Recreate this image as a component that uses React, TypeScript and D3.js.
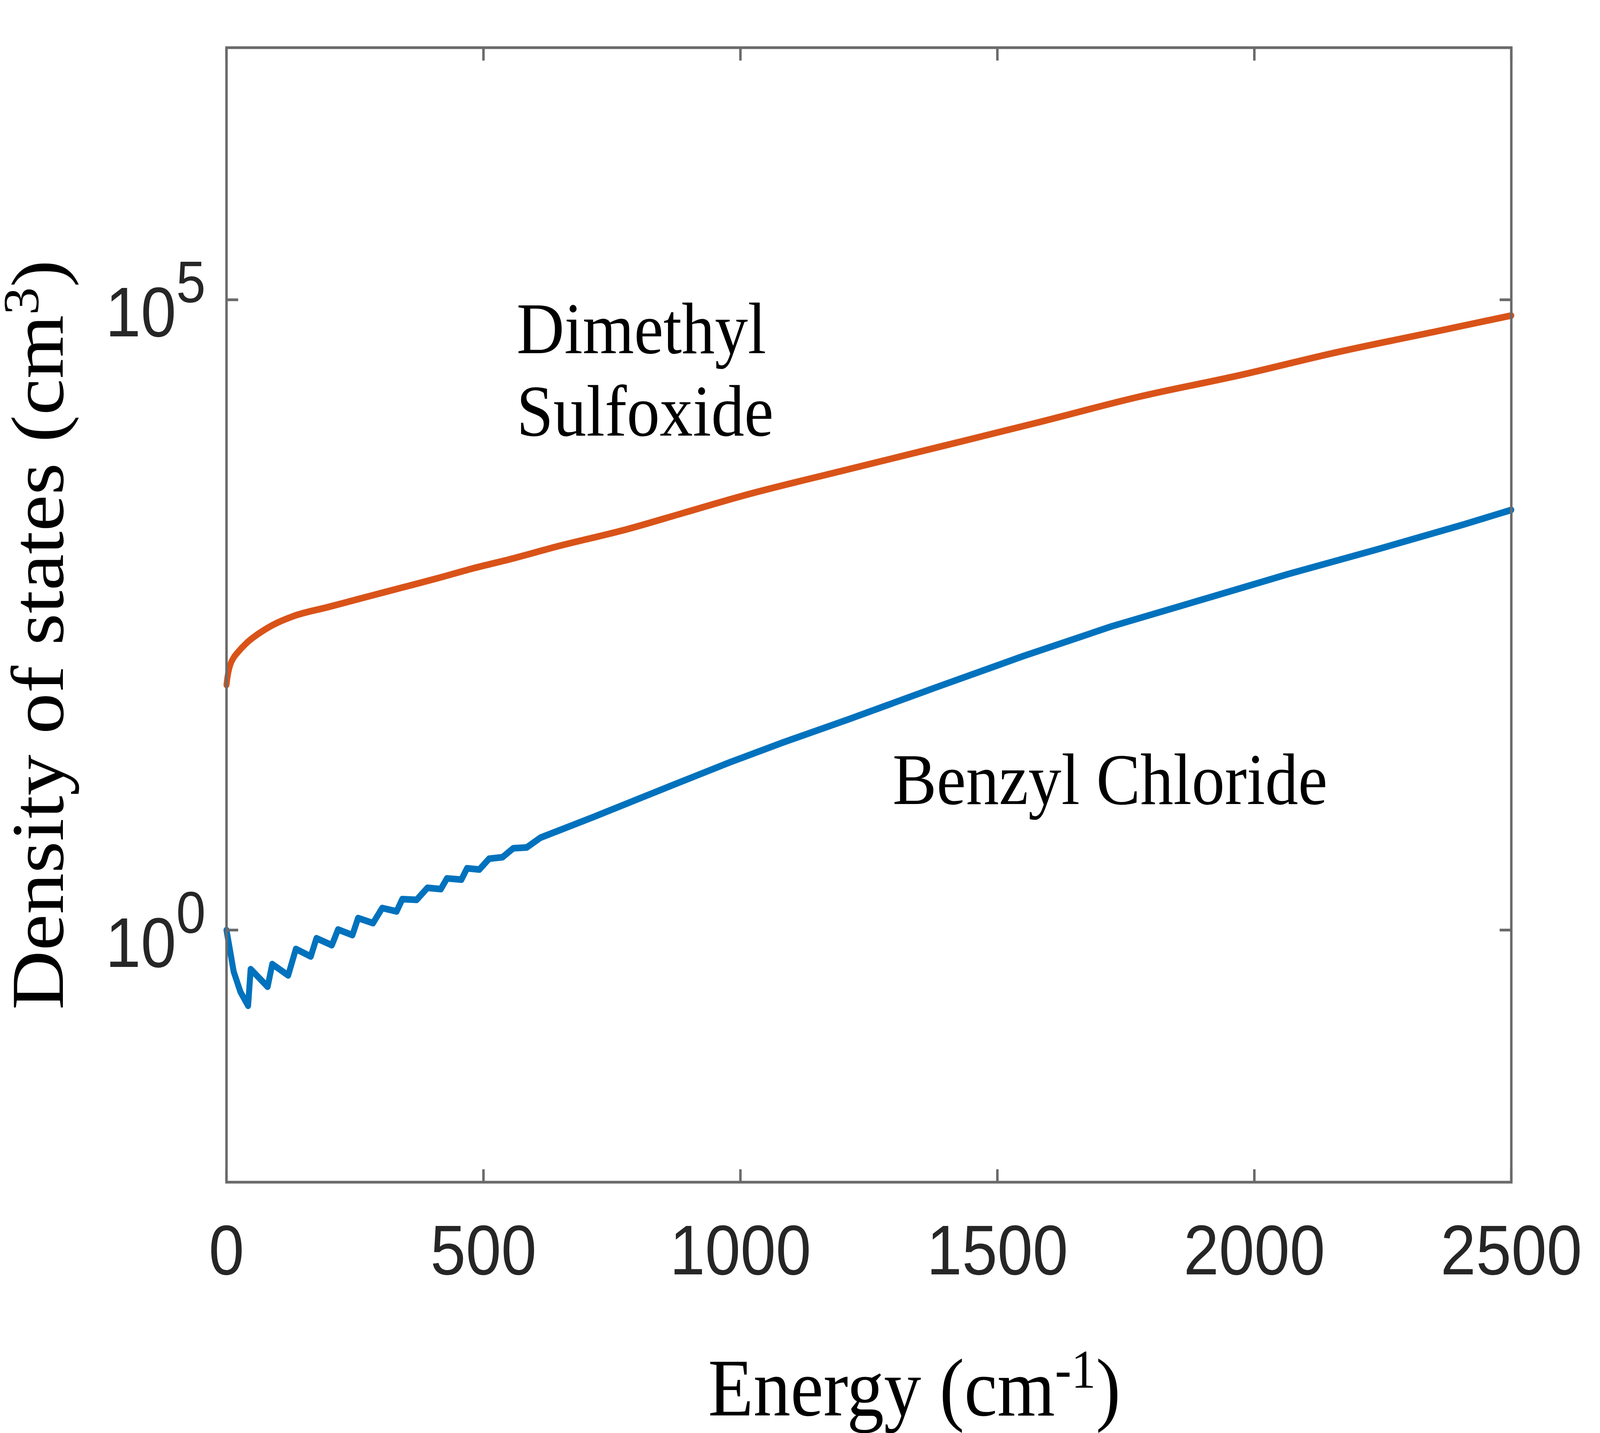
import * as d3 from "d3";

// Dimethyl sulfoxide (orange) — energy (cm^-1) and density of states (cm^3)
const energyDMSO = [0, 2, 7, 14, 21, 40, 60, 90, 130, 200, 270, 340, 410, 480, 540, 650, 780, 890, 1000, 1200, 1390, 1580, 1775, 1970, 2160, 2355, 2500];
const dosDMSO = [88, 102, 126, 145, 158, 191, 221, 263, 309, 367, 437, 519, 617, 741, 851, 1122, 1514, 2042, 2754, 4416, 6855, 10666, 16982, 25119, 38282, 56234, 74989];

// Benzyl chloride (blue)
const energyBenzyl = [
  0, 14, 27, 42, 47, 80, 89, 120, 135, 164, 175, 205, 217, 245, 256, 285, 303, 331, 342, 370,
  391, 417, 429, 457, 468, 492, 511, 537, 558, 584, 611, 716, 874, 979, 1084, 1209, 1381, 1551,
  1722, 1894, 2065, 2235, 2406, 2500,
];
const dosBenzyl = [
  1, 0.468, 0.324, 0.251, 0.49, 0.355, 0.537, 0.437, 0.708, 0.617, 0.861, 0.759, 1.01, 0.912,
  1.245, 1.135, 1.496, 1.406, 1.758, 1.738, 2.163, 2.113, 2.57, 2.512, 3.09, 3.02, 3.681, 3.784,
  4.457, 4.519, 5.408, 7.943, 14.45, 21.38, 30.9, 46.77, 84.3, 149.3, 256.4, 413, 665.3, 1035,
  1644, 2153,
];

const xTicks = [0, 500, 1000, 1500, 2000, 2500];
const yTicks = [1, 1e5];
const yTickExponents = ["0", "5"];

const W = 4528;
const H = 3668;
const left = 641;
const right = 4277;
const top = 122;
const bottom = 3026;

const sans = "'Liberation Sans', Arial, Helvetica, sans-serif";
const serif = "'Liberation Serif', 'Times New Roman', Times, serif";

const App = () => {
  const x = d3.scaleLinear().domain([0, 2500]).range([left, right]);
  const y = d3.scaleLog().domain([1e-2, 1e7]).range([bottom, top]);

  const dmso = d3
    .line<[number, number]>()
    .x((d) => x(d[0]))
    .y((d) => y(d[1]))
    .curve(d3.curveMonotoneX)(energyDMSO.map((e, i) => [e, dosDMSO[i]]) as [number, number][]);
  const benzyl = d3
    .line<[number, number]>()
    .x((d) => x(d[0]))
    .y((d) => y(d[1]))(energyBenzyl.map((e, i) => [e, dosBenzyl[i]]) as [number, number][]);

  const axisColor = "#6a6a6a";
  const tickLen = 33;

  return (
    <svg
      viewBox={`0 0 ${W} ${H}`}
      preserveAspectRatio="none"
      style={{ position: "fixed", left: 0, top: 0, width: "100vw", height: "100vh", display: "block", background: "#fff" }}
    >
      <rect x={0} y={0} width={W} height={H} fill="#fff" />
      <defs>
        <clipPath id="plotClip">
          <rect x={left - 10} y={top} width={right - left + 20} height={bottom - top} />
        </clipPath>
      </defs>

      {/* data lines */}
      <g clipPath="url(#plotClip)">
        <path d={benzyl || ""} fill="none" stroke="#0072BD" strokeWidth={17} strokeLinejoin="round" strokeLinecap="round" />
        <path d={dmso || ""} fill="none" stroke="#D95319" strokeWidth={17} strokeLinejoin="round" strokeLinecap="round" />
      </g>

      {/* axes box */}
      <rect x={left} y={top} width={right - left} height={bottom - top} fill="none" stroke={axisColor} strokeWidth={7} />

      {/* x ticks, bottom and top */}
      {xTicks.map((t) => (
        <g key={`xt${t}`}>
          <line x1={x(t)} x2={x(t)} y1={bottom} y2={bottom - tickLen} stroke={axisColor} strokeWidth={7} />
          <line x1={x(t)} x2={x(t)} y1={top} y2={top + tickLen} stroke={axisColor} strokeWidth={7} />
          <text x={x(t)} y={3262} textAnchor="middle" fontFamily={sans} fontSize={180} fill="#262626">
            {t}
          </text>
        </g>
      ))}

      {/* y ticks, left and right */}
      {yTicks.map((t, i) => (
        <g key={`yt${t}`}>
          <line x1={left} x2={left + tickLen} y1={y(t)} y2={y(t)} stroke={axisColor} strokeWidth={7} />
          <line x1={right} x2={right - tickLen} y1={y(t)} y2={y(t)} stroke={axisColor} strokeWidth={7} />
          <text x={582} y={y(t) + 94} textAnchor="end" fontFamily={sans} fill="#262626">
            <tspan fontSize={180}>10</tspan>
            <tspan fontSize={150} dy={-87}>
              {yTickExponents[i]}
            </tspan>
          </text>
        </g>
      ))}

      {/* axis labels */}
      <text x={2004} y={3623} fontFamily={serif} fontSize={210} fill="#000">
        Energy (cm
        <tspan fontSize={139} dy={-71}>
          -1
        </tspan>
        <tspan dy={71}>)</tspan>
      </text>
      <text transform="translate(178,1625) rotate(-90)" textAnchor="middle" fontFamily={serif} fontSize={210} fill="#000">
        Density of states (cm
        <tspan fontSize={142} dy={-70}>
          3
        </tspan>
        <tspan dy={70}>)</tspan>
      </text>

      {/* annotations */}
      <text x={1462} y={904} fontFamily={serif} fontSize={187} fill="#000">
        Dimethyl
      </text>
      <text x={1462} y={1115} fontFamily={serif} fontSize={187} fill="#000">
        Sulfoxide
      </text>
      <text x={2526} y={2058} fontFamily={serif} fontSize={187} fill="#000">
        Benzyl Chloride
      </text>
    </svg>
  );
};

export default App;
